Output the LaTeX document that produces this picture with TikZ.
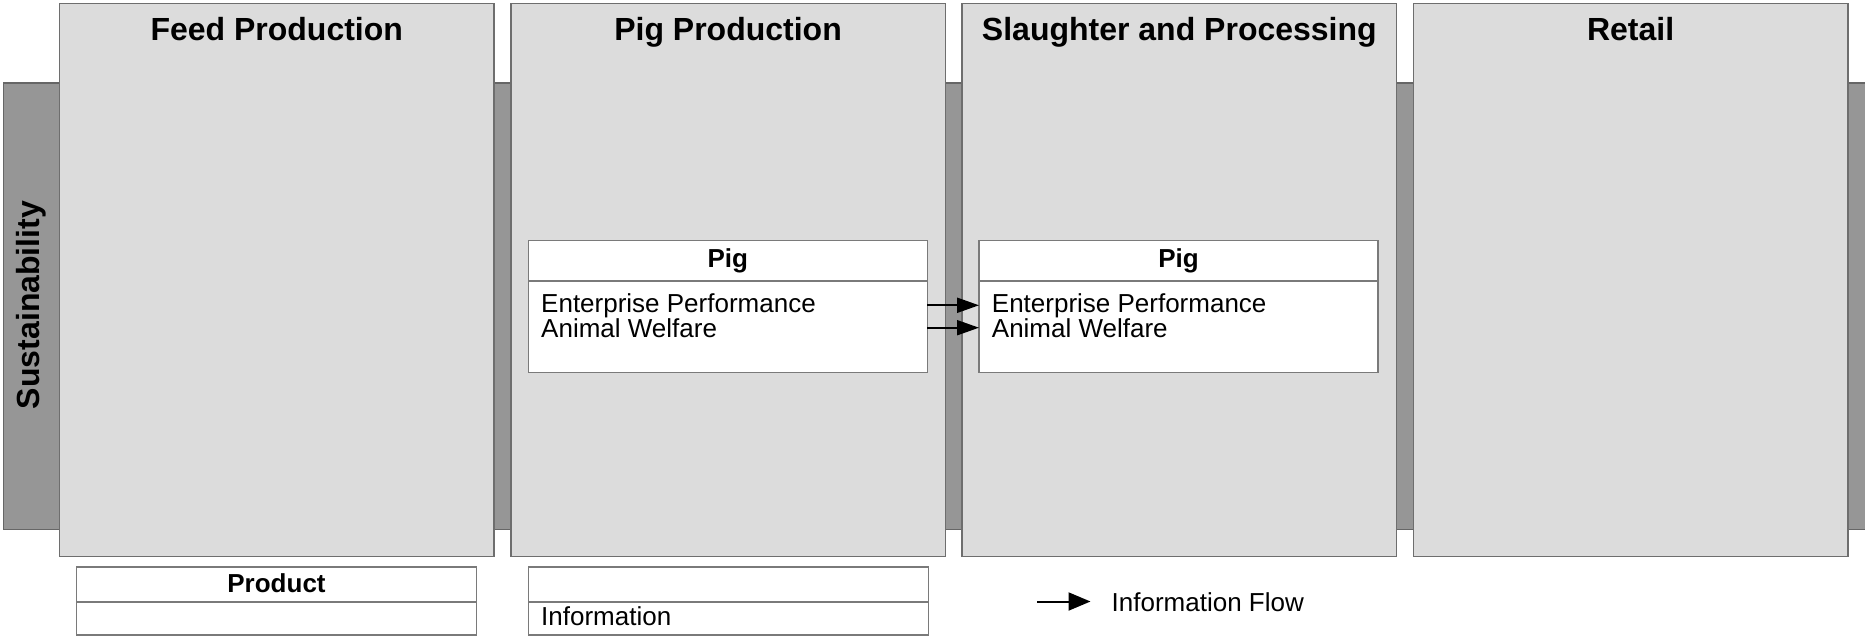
\documentclass[tikz,border=0pt]{standalone}
\usepackage{fontspec}
\setmainfont{Liberation Sans}
\usetikzlibrary{arrows.meta,calc}

\definecolor{stagefill}{HTML}{DCDCDC}
\definecolor{stageline}{HTML}{6E6E6E}
\definecolor{bandfill}{HTML}{969696}
\definecolor{bandline}{HTML}{666666}
\definecolor{cardline}{HTML}{7A7A7A}

\tikzset{
  band/.style={draw=bandline, fill=bandfill, line width=1.4pt},
  stage/.style={draw=stageline, fill=stagefill, line width=1.4pt,
    minimum width=434.5pt, minimum height=553pt, anchor=north west,
    inner sep=0pt, outer sep=0pt},
  stagetitle/.style={anchor=base, inner sep=0pt,
    font=\fontsize{32}{36}\selectfont\bfseries},
  card/.style={draw=cardline, fill=white, line width=1.2pt,
    minimum width=399pt, minimum height=131.6pt, anchor=north west,
    inner sep=0pt, outer sep=0pt},
  legendcard/.style={draw=cardline, fill=white, line width=1.2pt,
    minimum width=400pt, minimum height=68pt, anchor=north west,
    inner sep=0pt, outer sep=0pt},
  divider/.style={draw=cardline, line width=1.2pt},
  bodytext/.style={inner sep=0pt, font=\fontsize{26}{24}\selectfont},
  headtext/.style={inner sep=0pt, anchor=base,
    font=\fontsize{26}{24}\selectfont\bfseries},
  flow/.style={line width=2pt, -{Triangle[length=22pt,width=15pt]}},
  legendflow/.style={line width=2pt, -{Triangle[length=22pt,width=18pt]}},
}

\begin{document}
\begin{tikzpicture}[x=1pt,y=-1pt]
\useasboundingbox (0,0) rectangle (1865,636);
\clip (0,0) rectangle (1865,636);

% sustainability band running behind all stages
\draw[band] (3.5,83) rectangle (1880,529.6);
\node[rotate=90, inner sep=0pt, font=\fontsize{32}{36}\selectfont\bfseries]
  (sust) at (31.5,305) {Sustainability};

% supply chain stages
\node[stage] (feed)  at (59.5,3.6)   {};
\node[stage] (pigp)  at (510.8,3.6)  {};
\node[stage] (slau)  at (962.1,3.6)  {};
\node[stage] (retl)  at (1413.4,3.6) {};

\node[stagetitle] (feedT) at ($(feed.north)+(0,37)$) {Feed Production};
\node[stagetitle] (pigpT) at ($(pigp.north)+(0,37)$) {Pig Production};
\node[stagetitle] (slauT) at ($(slau.north)+(0,37)$) {Slaughter and Processing};
\node[stagetitle] (retlT) at ($(retl.north)+(0,37)$) {Retail};

% product cards
\node[card] (pigIn) at (528.3,240.7) {};
\draw[divider] ($(pigIn.north west)+(0,40.3)$) -- ($(pigIn.north east)+(0,40.3)$);
\node[headtext] (pigInH) at ($(pigIn.north)+(0,26.5)$) {Pig};
\node[bodytext, anchor=base west] (pigEP) at (541,312) {Enterprise Performance};
\node[bodytext, anchor=base west] (pigAW) at (541,337) {Animal Welfare};

\node[card] (slIn) at (979,240.7) {};
\draw[divider] ($(slIn.north west)+(0,40.3)$) -- ($(slIn.north east)+(0,40.3)$);
\node[headtext] (slInH) at ($(slIn.north)+(0,26.5)$) {Pig};
\node[bodytext, anchor=base west] (slEP) at (991.7,312) {Enterprise Performance};
\node[bodytext, anchor=base west] (slAW) at (991.7,337) {Animal Welfare};

% information flows between stages
\draw[flow] (pigIn.east |- pigEP.center) -- (slIn.west |- slEP.center);
\draw[flow] (pigIn.east |- pigAW.center) -- (slIn.west |- slAW.center);

% legend
\node[legendcard] (prodKey) at (76.5,567) {};
\draw[divider] ($(prodKey.north west)+(0,35)$) -- ($(prodKey.north east)+(0,35)$);
\node[headtext] (prodKeyT) at ($(prodKey.north)+(0,25.5)$) {Product};

\node[legendcard] (infoKey) at (528.5,567) {};
\draw[divider] ($(infoKey.north west)+(0,35)$) -- ($(infoKey.north east)+(0,35)$);
\node[bodytext, anchor=base west] (infoKeyT) at (541,625.5) {Information};

\coordinate (flowKeyStart) at (1037,601.5);
\node[bodytext, anchor=base west] (flowKeyT) at (1111.5,611) {Information Flow};
\draw[legendflow] (flowKeyStart) -- ($(flowKeyStart -| flowKeyT.west)+(-21,0)$);
\end{tikzpicture}
\end{document}
